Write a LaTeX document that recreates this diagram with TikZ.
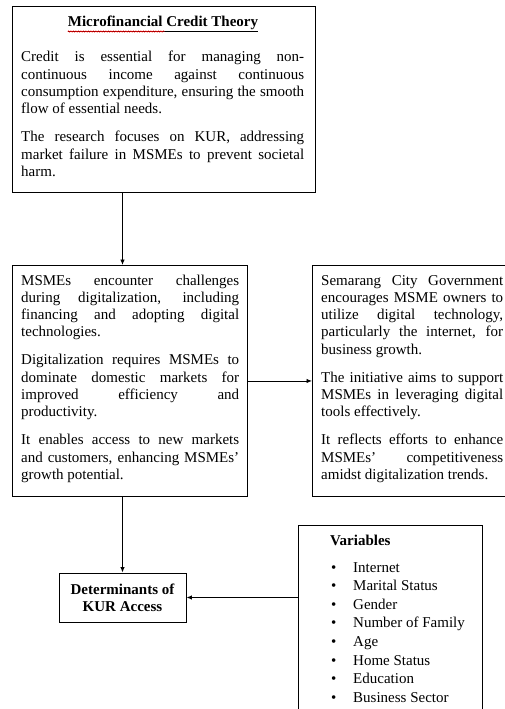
\documentclass[tikz,border=0pt]{standalone}
\usepackage{fontspec}
\setmainfont{Liberation Serif}
\usetikzlibrary{arrows.meta,decorations.pathmorphing}
\newcommand{\jl}[1]{\makebox[\linewidth][s]{#1}\par}
\newlength{\pgap}\setlength{\pgap}{10.7pt}
\hbadness=10000 \hfuzz=20pt
\begin{document}
\begin{tikzpicture}[x=1pt,y=-1pt,
  box/.style={draw, line width=0.9pt, inner sep=0pt, anchor=north west},
  txt/.style={inner sep=0pt, anchor=base west, font=\fontsize{15}{17.3}\selectfont},
  arr/.style={line width=0.9pt, -{Latex[length=5.5pt,width=4.5pt]}}]
\useasboundingbox (0,0) rectangle (504,709);
% boxes
\node[box, minimum width=303pt, minimum height=186pt] (top) at (12,6) {};
\node[box, minimum width=235pt, minimum height=231pt] (left) at (12,265) {};
\node[box, minimum width=235pt, minimum height=231pt] (right) at (312,265) {};
\node[box, minimum width=184pt, minimum height=200pt] (vars) at (298,525) {};
\node[draw, line width=0.9pt, minimum width=127pt, minimum height=49pt, inner sep=0pt,
      align=center, font=\fontsize{15}{17.3}\selectfont\bfseries] (det) at (122.5,597.5)
      {Determinants of\\KUR Access};
% top box text
\node[inner sep=0pt, anchor=base, font=\fontsize{15}{17.3}\selectfont\bfseries] (title) at (163,27)
  {\underline{Microfinancial Credit Theory}};
\draw[red, line width=0.5pt, decorate, decoration={snake, amplitude=0.7pt, segment length=2.5pt}]
  ([yshift=-4.5pt]title.base west) -- ([xshift=97pt,yshift=-4.5pt]title.base west);
\node[txt] (ttext) at (21,62) {\begin{minipage}[t]{283pt}
\jl{Credit is essential for managing non-}
\jl{continuous income against continuous}
\jl{consumption expenditure, ensuring the smooth}
flow of essential needs.\par\vspace{\pgap}
\jl{The research focuses on KUR, addressing}
\jl{market failure in MSMEs to prevent societal}
harm.
\end{minipage}};
% left box text
\node[txt] (ltext) at (21,285) {\begin{minipage}[t]{218pt}
\jl{MSMEs encounter challenges}
\jl{during digitalization, including}
\jl{financing and adopting digital}
technologies.\par\vspace{\pgap}
\jl{Digitalization requires MSMEs to}
\jl{dominate domestic markets for}
\jl{improved efficiency and}
productivity.\par\vspace{\pgap}
\jl{It enables access to new markets}
\jl{and customers, enhancing MSMEs'}
growth potential.
\end{minipage}};
% right box text
\node[txt] (rtext) at (321,285) {\begin{minipage}[t]{182pt}
\jl{Semarang City Government}
\jl{encourages MSME owners to}
\jl{utilize digital technology,}
\jl{particularly the internet, for}
business growth.\par\vspace{\pgap}
\jl{The initiative aims to support}
\jl{MSMEs in leveraging digital}
tools effectively.\par\vspace{\pgap}
\jl{It reflects efforts to enhance}
\jl{MSMEs' competitiveness}
amidst digitalization trends.
\end{minipage}};
% variables text
\node[txt, font=\fontsize{15}{17.3}\selectfont\bfseries] (vtitle) at (330,545) {Variables};
\node[txt, font=\fontsize{15}{18.6}\selectfont] (vlist) at (331,572) {\begin{minipage}[t]{150pt}
\makebox[22pt][l]{\textbullet}Internet\par
\makebox[22pt][l]{\textbullet}Marital Status\par
\makebox[22pt][l]{\textbullet}Gender\par
\makebox[22pt][l]{\textbullet}Number of Family\par
\makebox[22pt][l]{\textbullet}Age\par
\makebox[22pt][l]{\textbullet}Home Status\par
\makebox[22pt][l]{\textbullet}Education\par
\makebox[22pt][l]{\textbullet}Business Sector
\end{minipage}};
% connectors
\draw[arr] (det.north |- top.south) -- (det.north |- left.north);
\draw[arr] (det.north |- left.south) -- (det.north);
\draw[arr] (left.east) -- (right.west);
\draw[arr] (vars.west |- det.east) -- (det.east);
\end{tikzpicture}
\end{document}
